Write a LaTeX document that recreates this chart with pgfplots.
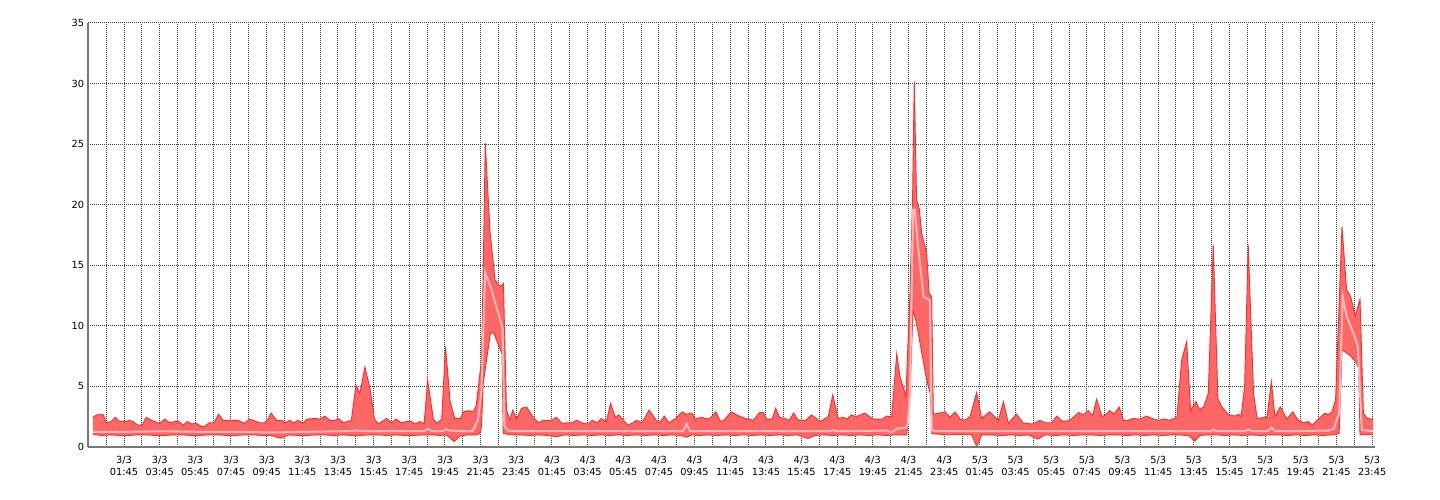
\documentclass[border=0pt]{standalone}
\usepackage{fontspec}
\setmainfont{DejaVu Sans}
\usepackage{pgfplots}
\pgfplotsset{compat=1.18}
\usepgfplotslibrary{fillbetween}
\definecolor{fillred}{RGB}{255,102,102}
\definecolor{edgered}{RGB}{255,45,45}
\definecolor{avgpink}{RGB}{255,185,185}
\definecolor{gridc}{RGB}{70,70,70}
\definecolor{axisc}{RGB}{120,120,120}
\begin{document}
\begin{tikzpicture}[x=0.25pt,y=0.25pt]
\path (0,0) rectangle (1440,500);
\begin{axis}[
  at={(22pt,13.25pt)}, anchor=south west,
  width=321.75pt, height=106pt, scale only axis,
  xmin=-0.27, xmax=71.91, ymin=0, ymax=35,
  axis x line*=bottom, axis y line*=left,
  x axis line style={-, draw=axisc, line width=0.4pt},
  y axis line style={-, draw=axisc, line width=0.4pt},
  ytick={0,5,...,35},
  xtick={1.75,3.75,...,71.75},
  minor xtick={0.75,2.75,...,70.75},
  xticklabels={{3/3\\01:45},{3/3\\03:45},{3/3\\05:45},{3/3\\07:45},{3/3\\09:45},{3/3\\11:45},{3/3\\13:45},{3/3\\15:45},{3/3\\17:45},{3/3\\19:45},{3/3\\21:45},{3/3\\23:45},
               {4/3\\01:45},{4/3\\03:45},{4/3\\05:45},{4/3\\07:45},{4/3\\09:45},{4/3\\11:45},{4/3\\13:45},{4/3\\15:45},{4/3\\17:45},{4/3\\19:45},{4/3\\21:45},{4/3\\23:45},
               {5/3\\01:45},{5/3\\03:45},{5/3\\05:45},{5/3\\07:45},{5/3\\09:45},{5/3\\11:45},{5/3\\13:45},{5/3\\15:45},{5/3\\17:45},{5/3\\19:45},{5/3\\21:45},{5/3\\23:45}},
  xticklabel style={align=center, font=\fontsize{2.45}{2.925}\selectfont, inner sep=0.5pt, yshift=-1.6pt},
  yticklabel style={font=\fontsize{2.45}{3}\selectfont, inner sep=0.5pt, xshift=-0.25pt},
  /pgf/number format/assume math mode=true,
  major tick length=0pt, minor tick length=0pt,
  grid=both,
  major grid style={draw=gridc, line width=0.25pt, dash pattern=on 0.25pt off 0.25pt},
  minor grid style={draw=gridc, line width=0.25pt, dash pattern=on 0.25pt off 0.25pt},
  clip=true,
]
\addplot[name path=mx, draw=edgered, line width=0.225pt] coordinates {
(0,2.45)(0.29,2.7)(0.57,2.7)(0.76,2.0)(1.04,2.1)(1.26,2.45)(1.5,2.1)(1.79,2.1)(2.07,2.2)(2.25,2.1)(2.53,1.8)(2.76,1.8)(3.0,2.45)(3.28,2.2)(3.75,1.95)(4.03,2.3)(4.31,2.0)(4.78,2.15)(5.06,1.8)(5.3,2.1)(5.53,1.9)(5.8,1.95)(6.09,1.7)(6.27,1.7)(6.55,2.0)(6.8,2.0)(7.06,2.7)(7.3,2.2)(8.14,2.2)(8.48,1.95)(8.8,2.3)(8.98,2.2)(9.36,2.0)(9.64,2.0)(9.83,2.3)(10.0,2.8)(10.3,2.2)(10.57,2.2)(10.8,2.0)(11.04,2.2)(11.28,2.0)(11.5,2.2)(11.79,1.95)(12.0,2.3)(12.46,2.35)(12.74,2.3)(13.0,2.55)(13.3,2.2)(13.58,2.2)(13.77,2.35)(14.05,2.0)(14.5,2.2)(14.76,5.1)(14.98,4.4)(15.26,6.6)(15.55,4.8)(15.8,2.3)(16.0,1.9)(16.48,2.35)(16.76,2.0)(17.0,2.3)(17.3,2.0)(17.6,2.1)(17.88,2.1)(18.07,1.9)(18.35,2.1)(18.58,1.9)(18.78,5.5)(19.1,2.3)(19.29,1.95)(19.57,2.3)(19.78,8.3)(20.04,3.75)(20.3,2.35)(20.6,2.35)(20.8,2.9)(21.06,3.0)(21.34,2.9)(21.5,3.4)(21.8,7.2)(21.9,14.9)(22.01,25.1)(22.28,17.7)(22.56,13.8)(22.75,13.4)(22.9,13.25)(23.03,13.5)(23.2,3.05)(23.4,2.2)(23.55,3.05)(23.77,2.3)(24.05,3.2)(24.33,3.3)(24.7,2.45)(24.99,2.0)(25.27,2.2)(25.74,2.2)(26.0,2.45)(26.3,1.95)(26.58,2.0)(26.86,2.0)(27.14,2.2)(27.5,1.95)(27.8,1.9)(28.0,2.2)(28.3,2.0)(28.5,2.35)(28.8,2.1)(29.04,3.6)(29.3,2.45)(29.5,2.65)(30.0,1.8)(30.3,2.0)(30.5,2.2)(30.8,2.0)(31.2,3.05)(31.6,2.2)(31.8,2.0)(32.05,2.55)(32.3,2.0)(32.7,2.35)(33.05,2.9)(33.3,2.7)(33.6,2.8)(33.8,2.3)(34.1,2.45)(34.57,2.3)(34.95,2.9)(35.2,2.1)(35.4,2.2)(35.8,2.9)(36.1,2.65)(36.6,2.35)(37.05,2.2)(37.4,2.85)(37.6,2.85)(37.8,2.3)(38.1,2.3)(38.3,3.2)(38.5,2.45)(38.8,2.35)(39.07,2.2)(39.3,2.8)(39.57,2.2)(40.0,2.2)(40.3,2.65)(40.8,2.1)(41.25,2.5)(41.5,4.3)(41.8,2.35)(42.1,2.45)(42.3,2.3)(42.55,2.65)(42.8,2.5)(43.3,2.8)(43.75,2.3)(44.3,2.3)(44.5,2.55)(44.8,2.5)(45.09,7.7)(45.27,5.8)(45.5,4.7)(45.6,4.15)(45.83,12.7)(45.98,20.9)(46.07,30.2)(46.2,20.4)(46.36,19.6)(46.49,17.6)(46.68,16.5)(46.77,16.0)(46.9,12.7)(47.05,12.4)(47.14,2.7)(47.5,2.8)(47.8,2.9)(48.08,2.45)(48.36,2.9)(48.64,2.3)(48.9,2.2)(49.2,2.5)(49.57,4.5)(49.85,2.35)(50.3,2.9)(50.79,2.2)(51.07,3.75)(51.35,1.95)(51.8,2.7)(52.2,1.95)(52.75,1.9)(53.1,2.2)(53.4,2.0)(53.8,2.0)(54.06,2.55)(54.4,2.1)(54.8,2.2)(55.3,2.85)(55.55,2.65)(55.83,3.0)(56.07,2.55)(56.3,3.95)(56.6,2.5)(56.8,2.65)(57.04,3.0)(57.27,2.7)(57.56,3.3)(57.8,2.2)(58.06,2.2)(58.34,2.35)(58.73,2.3)(59.1,2.55)(59.5,2.3)(59.76,2.2)(60.1,2.3)(60.4,2.2)(60.8,2.45)(61.07,7.2)(61.35,8.7)(61.57,3.0)(61.87,3.75)(62.06,3.1)(62.3,3.3)(62.56,4.4)(62.84,16.7)(63.1,4.0)(63.3,3.35)(63.7,2.65)(64.06,2.55)(64.25,2.7)(64.4,2.5)(64.6,5.0)(64.8,16.7)(65.1,4.4)(65.3,2.35)(65.75,2.45)(65.85,2.4)(66.1,5.4)(66.3,2.5)(66.6,3.3)(66.97,2.3)(67.3,2.9)(67.6,2.2)(67.9,2.0)(68.15,2.1)(68.4,1.8)(68.7,2.25)(69.1,2.8)(69.3,2.65)(69.5,2.9)(69.7,3.9)(70.06,18.2)(70.32,12.96)(70.55,12.4)(70.8,10.8)(71.07,12.2)(71.26,2.8)(71.45,2.4)(71.8,2.25)
};
\addplot[name path=mn, draw=edgered, line width=0.225pt] coordinates {
(0,1.05)(0.5,0.95)(1,1.0)(1.5,0.95)(2,0.95)(2.5,1.0)(3,1.0)(3.5,0.95)(4,0.95)(4.5,1.0)(5,1.0)(5.5,0.95)(6,0.95)(6.5,1.0)(7,1.0)(7.5,0.95)(8,0.95)(8.5,1.0)(9,1.0)(9.5,0.95)(10,0.95)(10.53,0.72)(11,1.0)(11.5,0.95)(12,0.95)(12.5,1.0)(13,1.0)(13.5,0.95)(14,1.0)(14.5,0.95)(15,0.95)(15.5,1.0)(16,1.0)(16.5,0.95)(17,1.0)(17.5,0.95)(18,0.95)(18.5,1.0)(19,1.0)(19.5,0.95)(19.8,1.0)(20.0,0.8)(20.26,0.45)(20.6,0.9)(21.0,1.0)(21.5,1.0)(21.7,1.1)(21.8,1.7)(21.9,5.3)(22.3,9.4)(22.5,9.4)(22.75,8.4)(22.95,7.7)(23.02,1.1)(23.5,1.0)(24,1.0)(24.5,0.95)(25,1.0)(25.5,0.95)(26,0.85)(26.5,1.0)(27,0.95)(27.5,1.0)(28,0.95)(28.5,1.0)(29,0.95)(29.5,1.0)(30,0.95)(30.5,1.0)(31,0.95)(31.5,1.0)(32,0.95)(32.5,1.0)(33.0,0.95)(33.3,0.8)(33.6,1.0)(34,0.95)(34.5,1.0)(35,0.95)(35.5,1.0)(36,0.95)(36.5,1.0)(37,0.95)(37.5,1.0)(38,0.95)(38.5,1.0)(39,0.95)(39.5,1.0)(40.1,0.7)(40.5,0.95)(41,1.0)(41.5,0.95)(42,1.0)(42.5,0.95)(43,1.0)(43.5,0.95)(44,1.0)(44.5,0.95)(45,1.0)(45.65,1.0)(45.83,4.4)(46.0,11.3)(46.2,10.2)(46.5,7.7)(46.77,5.5)(46.97,4.4)(47.06,1.1)(47.5,1.05)(48,1.0)(48.5,1.05)(49.3,1.0)(49.57,0.05)(49.85,1.0)(50.3,1.0)(51,0.95)(51.5,1.0)(52,0.95)(52.5,1.0)(53.0,0.65)(53.4,1.0)(54,0.95)(54.5,1.0)(55,0.95)(55.5,1.0)(56,1.0)(56.5,0.95)(57,1.0)(57.5,1.0)(58,0.95)(58.5,1.0)(59,0.95)(59.5,1.0)(60,0.95)(60.5,1.0)(61,1.0)(61.5,0.9)(61.8,0.5)(62.1,0.95)(62.5,1.0)(63,1.0)(63.5,0.95)(64,1.0)(64.5,0.95)(65,1.0)(65.5,0.95)(66,1.0)(66.5,1.0)(67,0.95)(67.5,1.0)(68,0.95)(68.5,1.0)(69,0.95)(69.5,1.0)(69.9,1.1)(70.06,8.0)(70.2,7.9)(70.55,7.5)(70.85,7.0)(71.0,6.5)(71.07,1.0)(71.5,1.05)(71.8,1.0)
};
\addplot[fillred, draw=none] fill between[of=mx and mn];
\addplot[draw=avgpink, line width=0.5pt] coordinates {
(0,1.25)(2,1.25)(4,1.3)(6,1.25)(8,1.25)(10,1.2)(12,1.25)(14,1.3)(14.8,1.35)(15.3,1.3)(18.6,1.3)(18.8,1.5)(19.0,1.3)(19.6,1.3)(19.8,1.45)(20.0,1.35)(21.3,1.3)(21.6,2.2)(21.8,4.7)(21.95,12.1)(22.01,14.4)(22.3,13.25)(22.85,10.5)(22.98,9.8)(23.08,1.7)(23.3,1.35)(24,1.3)(26,1.3)(28,1.3)(30,1.3)(33.1,1.3)(33.3,1.9)(33.5,1.3)(36,1.3)(38,1.3)(41.3,1.3)(41.5,1.4)(41.7,1.3)(44.5,1.35)(44.8,1.2)(45.1,1.5)(45.6,1.6)(45.7,1.8)(45.83,4.4)(46.0,19.6)(46.1,19.6)(46.3,16.3)(46.6,12.4)(46.95,12.1)(47.05,1.4)(47.3,1.3)(50,1.3)(55,1.3)(58,1.3)(60,1.3)(62.7,1.3)(62.84,1.45)(63.0,1.3)(64.65,1.3)(64.8,1.45)(65.0,1.3)(65.9,1.3)(66.1,1.6)(66.3,1.3)(69.3,1.35)(69.6,1.5)(69.9,2.8)(70.1,12.4)(70.32,10.8)(70.7,9.4)(70.95,8.3)(71.17,1.4)(71.8,1.3)
};
\end{axis}
\end{tikzpicture}
\end{document}
